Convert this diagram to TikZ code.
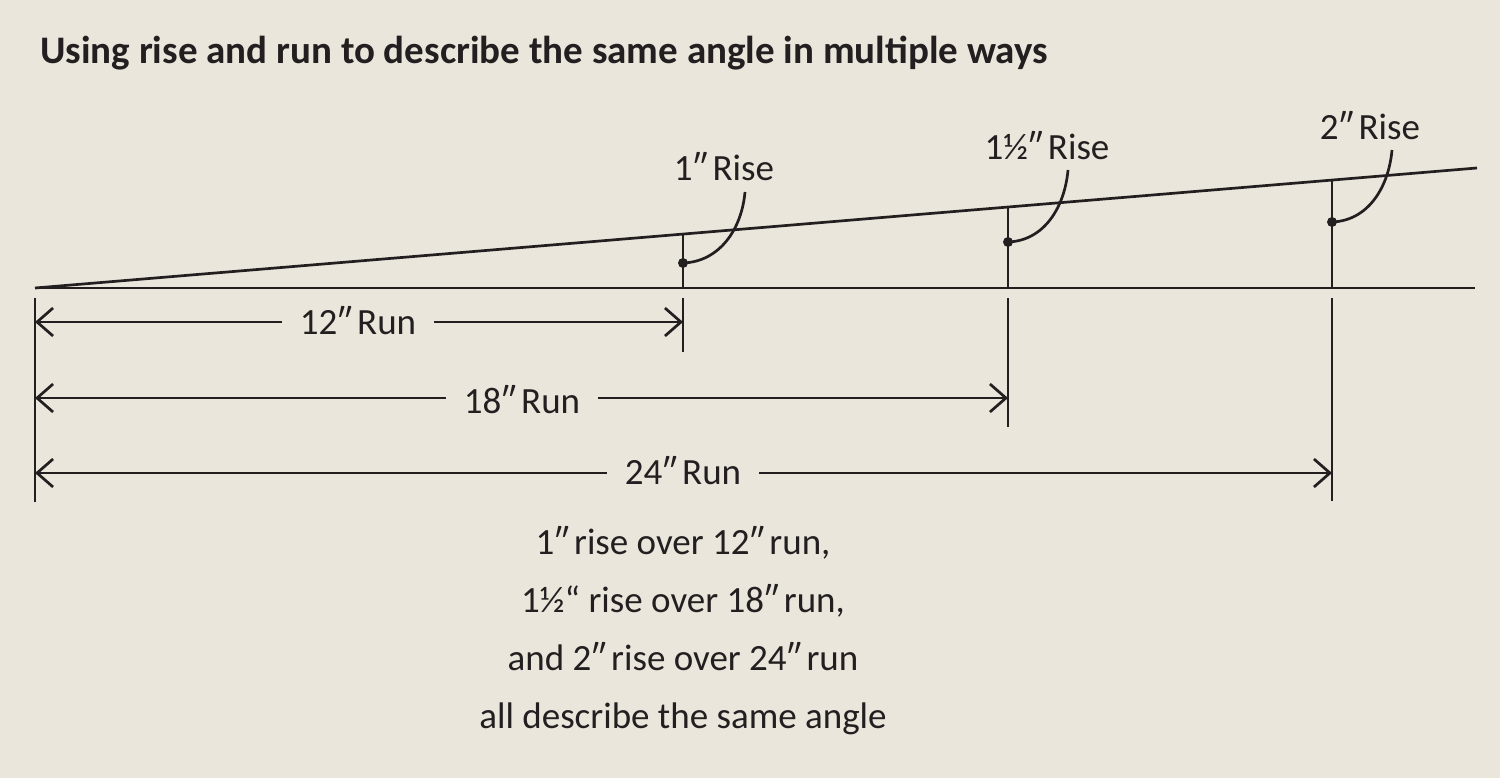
\documentclass[tikz,border=0pt]{standalone}
\usepackage{fontspec}
\setmainfont{Carlito}
\usetikzlibrary{arrows.meta}
\definecolor{bg}{HTML}{EAE6DC}
\definecolor{ink}{HTML}{231F20}
\newcommand{\inch}{″\hspace{5pt}}
\tikzset{
  ln/.style={draw=ink, line width=2.7pt},
  arr/.style={ln, -{Straight Barb[length=16pt,width=28pt,line width=2.7pt]}},
  lbl/.style={text=ink, font=\fontsize{37}{45}\selectfont, inner sep=0pt},
  runlbl/.style={lbl, inner xsep=18pt},
  dotst/.style={fill=ink}
}
\begin{document}
\begin{tikzpicture}[x=1pt,y=-1pt]
\useasboundingbox (0,0) rectangle (1500,778);
\fill[bg] (0,0) rectangle (1500,778);
% title
\node[anchor=base west, text=ink, inner sep=0pt, font=\fontsize{39}{47}\selectfont\bfseries] (title) at (40,64) {Using rise and run to describe the same angle in multiple ways};
% main lines
\coordinate (O) at (35,288);
\coordinate (E) at (1475,288);
\coordinate (S) at (1477,168);
\draw[ln] (O) -- (S);
\draw[ln] (O) -- (E);
% rise verticals
\coordinate (t1) at (683,234); \coordinate (b1) at (683,288);
\coordinate (t2) at (1008,207); \coordinate (b2) at (1008,288);
\coordinate (t3) at (1332,180); \coordinate (b3) at (1332,288);
\draw[ln] (t1) -- (b1);
\draw[ln] (t2) -- (b2);
\draw[ln] (t3) -- (b3);
% ticks below
\coordinate (k0a) at (35,298); \coordinate (k0b) at (35,502);
\coordinate (k1a) at (683,298); \coordinate (k1b) at (683,352);
\coordinate (k2a) at (1008,298); \coordinate (k2b) at (1008,427);
\coordinate (k3a) at (1332,298); \coordinate (k3b) at (1332,501);
\draw[ln] (k0a) -- (k0b);
\draw[ln] (k1a) -- (k1b);
\draw[ln] (k2a) -- (k2b);
\draw[ln] (k3a) -- (k3b);
% dots and leader curves
\coordinate (d1) at (683,263);
\coordinate (d2) at (1008,242);
\coordinate (d3) at (1332,222);
\fill[dotst] (d1) circle (5);
\fill[dotst] (d2) circle (5);
\fill[dotst] (d3) circle (5);
\node[lbl, anchor=base] (r1) at (724,181) {1\inch Rise};
\node[lbl, anchor=base] (r2) at (1047,160) {1½\inch Rise};
\node[lbl, anchor=base] (r3) at (1370,140) {2\inch Rise};
\coordinate (c1) at (745,192);
\coordinate (c2) at (1068,170);
\coordinate (c3) at (1392,150);
\draw[ln] (d1) to[out=2,in=-95] (c1);
\draw[ln] (d2) to[out=2,in=-95] (c2);
\draw[ln] (d3) to[out=2,in=-95] (c3);
% run dimensions
\node[runlbl] (u1) at (358,321) {12\inch Run};
\node[runlbl] (u2) at (522,400) {18\inch Run};
\node[runlbl] (u3) at (683,471) {24\inch Run};
\coordinate (a1l) at (35,322); \coordinate (a1r) at (683,322);
\coordinate (a2l) at (35,398); \coordinate (a2r) at (1008,398);
\coordinate (a3l) at (35,473); \coordinate (a3r) at (1332,473);
\draw[arr] (u1.west |- a1l) -- (a1l);
\draw[arr] (u1.east |- a1r) -- (a1r);
\draw[arr] (u2.west |- a2l) -- (a2l);
\draw[arr] (u2.east |- a2r) -- (a2r);
\draw[arr] (u3.west |- a3l) -- (a3l);
\draw[arr] (u3.east |- a3r) -- (a3r);
% explanatory text
\node[lbl, anchor=base] (x1) at (683,554) {1\inch rise over 12\inch run,};
\node[lbl, anchor=base] (x2) at (683,612) {1½“ rise over 18\inch run,};
\node[lbl, anchor=base] (x3) at (683,670) {and 2\inch rise over 24\inch run};
\node[lbl, anchor=base] (x4) at (683,728) {all describe the same angle};
\end{tikzpicture}
\end{document}
